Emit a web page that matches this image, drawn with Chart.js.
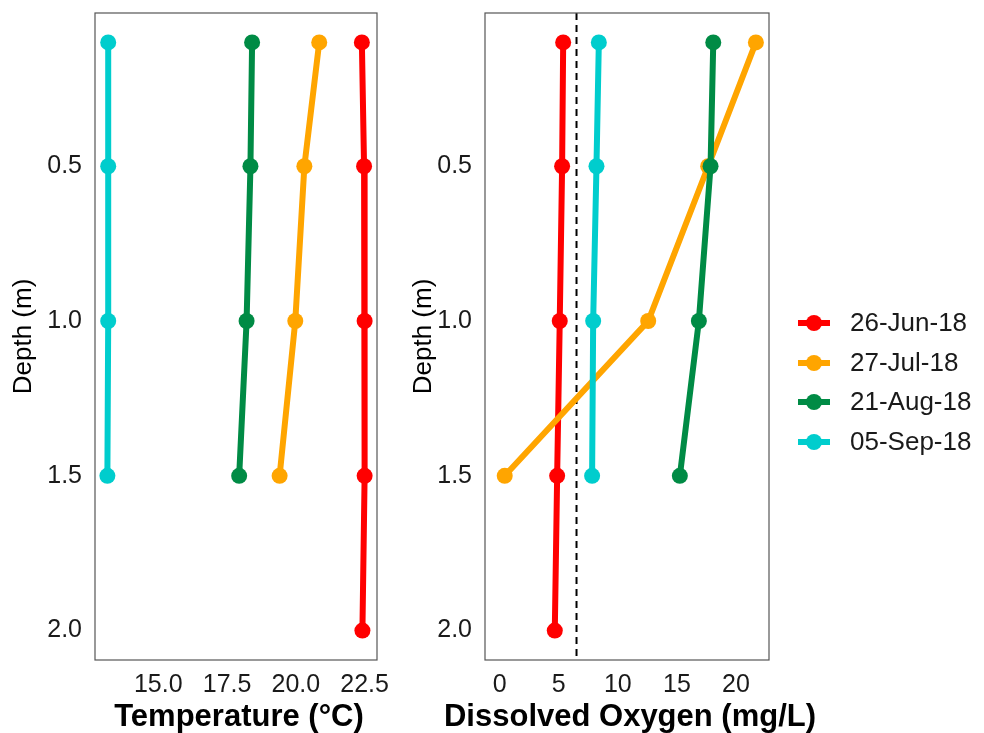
<!DOCTYPE html>
<html><head><meta charset="utf-8">
<script src="https://cdn.jsdelivr.net/npm/chart.js@4.4.1/dist/chart.umd.min.js"></script>
<style>
html,body{margin:0;padding:0;background:#fff;}
#wrap{position:relative;width:984px;height:733px;overflow:hidden;}
#c1{position:absolute;left:0;top:0;}
#c2{position:absolute;left:400px;top:0;}
</style></head>
<body><div id="wrap"><canvas id="c1" width="400" height="733"></canvas><canvas id="c2" width="584" height="733"></canvas></div>
<script>
// ---- data ----
const seriesNames = ['26-Jun-18','27-Jul-18','21-Aug-18','05-Sep-18'];
const seriesColors = ['#FF0000','#FFA500','#008B45','#00CDCD'];
const depths = [0.1, 0.5, 1.0, 1.5, 2.0];
const tempJun = [22.40, 22.48, 22.50, 22.50, 22.42];
const tempJul = [20.85, 20.31, 19.98, 19.41];
const tempAug = [18.41, 18.35, 18.21, 17.94];
const tempSep = [13.18, 13.18, 13.18, 13.15];
const doJun = [5.37, 5.28, 5.08, 4.86, 4.66];
const doJul = [21.69, 17.65, 12.57, 0.42];
const doAug = [18.08, 17.85, 16.86, 15.25];
const doSep = [8.39, 8.19, 7.91, 7.82];
const doThreshold = 6.5;
const depthTicks = [0.5, 1.0, 1.5, 2.0];
const tempTicks = [15.0, 17.5, 20.0, 22.5];
const doTicks = [0, 5, 10, 15, 20];
const tempTitle = 'Temperature (°C)';
const doTitle = 'Dissolved Oxygen (mg/L)';
const depthTitle = 'Depth (m)';

const FONT = "'Liberation Sans', Arial, sans-serif";
const yMin = 0.005, yMax = 2.095;

function mk(vals){ return vals.map((v,i)=>({x:v, y:depths[i]})); }
function lineDs(vals, idx){
  return {label: seriesNames[idx], data: mk(vals), borderColor: seriesColors[idx], backgroundColor: seriesColors[idx],
    borderWidth: 6, pointRadius: 8, pointHoverRadius: 8, pointBorderWidth: 0, order: 10 - idx, tension: 0};
}

const framePlugin = {
  id: 'frame',
  afterDatasetsDraw(chart, args, opts){
    const {ctx, chartArea:a} = chart;
    ctx.save();
    ctx.strokeStyle = '#555';
    ctx.lineWidth = 1.2;
    ctx.strokeRect(a.left, a.top, a.right - a.left, a.bottom - a.top);
    ctx.restore();
  },
  afterDraw(chart, args, opts){
    const {ctx} = chart;
    ctx.save();
    ctx.fillStyle = '#000';
    ctx.font = "bold 31px " + FONT;
    ctx.textAlign = 'center';
    ctx.textBaseline = 'middle';
    ctx.fillText(opts.title, opts.titleX, 717);
    if (opts.legend){
      const rows = [323, 363, 402, 442];
      ctx.font = "26px " + FONT;
      ctx.textAlign = 'left';
      seriesNames.forEach((n,i)=>{
        const y = rows[i];
        ctx.strokeStyle = seriesColors[i];
        ctx.fillStyle = seriesColors[i];
        ctx.lineWidth = 6;
        ctx.beginPath(); ctx.moveTo(398, y); ctx.lineTo(430, y); ctx.stroke();
        ctx.beginPath(); ctx.arc(414, y, 8, 0, Math.PI*2); ctx.fill();
        ctx.fillStyle = '#1a1a1a';
        ctx.fillText(n, 450, y + 1);
      });
    }
    ctx.restore();
  }
};

function yScale(width){
  return {
    type: 'linear', reverse: true, min: yMin, max: yMax,
    grid: {display: false, drawTicks: false}, border: {display: false},
    afterBuildTicks: s => { s.ticks = depthTicks.map(v => ({value: v})); },
    afterFit: s => { s.width = width; s.paddingTop = 0; s.paddingBottom = 0; },
    ticks: {padding: 13, color: '#1a1a1a', font: {family: FONT, size: 25}, callback: v => Number(v).toFixed(1)},
    title: {display: true, text: depthTitle, color: '#000', font: {family: FONT, size: 26}, padding: {top: 8, bottom: 0}}
  };
}
function xScale(min, max, ticks, fmt){
  return {
    type: 'linear', min: min, max: max,
    grid: {display: false, drawTicks: false}, border: {display: false},
    afterBuildTicks: s => { s.ticks = ticks.map(v => ({value: v})); },
    afterFit: s => { s.height = 73; s.paddingLeft = 0; s.paddingRight = 0; },
    ticks: {padding: 10, color: '#1a1a1a', font: {family: FONT, size: 25}, maxRotation: 0, callback: fmt}
  };
}

const common = {
  responsive: false, animation: false, devicePixelRatio: 1,
  plugins: {legend: {display: false}, tooltip: {enabled: false}},
  events: []
};

new Chart(document.getElementById('c1'), {
  type: 'line',
  data: {datasets: [lineDs(tempJun,0), lineDs(tempJul,1), lineDs(tempAug,2), lineDs(tempSep,3)]},
  options: Object.assign({}, common, {
    layout: {padding: {top: 13, right: 23, left: 0, bottom: 0}},
    scales: {x: xScale(12.7, 22.95, tempTicks, v => Number(v).toFixed(1)), y: yScale(95)},
    plugins: Object.assign({}, common.plugins, {frame: {title: tempTitle, titleX: 239, legend: false}})
  }),
  plugins: [framePlugin]
});

new Chart(document.getElementById('c2'), {
  type: 'line',
  data: {datasets: [
    lineDs(doJun,0), lineDs(doJul,1), lineDs(doAug,2), lineDs(doSep,3),
    {label: 'threshold', data: [{x: doThreshold, y: yMin}, {x: doThreshold, y: yMax}], borderColor: '#000',
     borderWidth: 2, borderDash: [7, 5], pointRadius: 0, order: 20}
  ]},
  options: Object.assign({}, common, {
    layout: {padding: {top: 13, right: 215, left: 0, bottom: 0}},
    scales: {x: xScale(-1.25, 22.8, doTicks, v => String(v)), y: yScale(85)},
    plugins: Object.assign({}, common.plugins, {frame: {title: doTitle, titleX: 230, legend: true}})
  }),
  plugins: [framePlugin]
});
</script>
</body></html>
